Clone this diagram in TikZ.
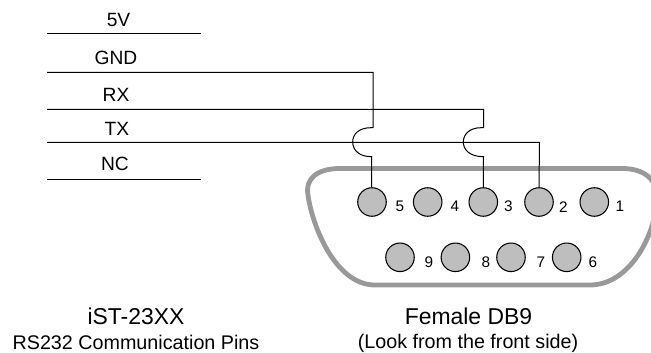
\documentclass[tikz,border=0pt]{standalone}
\usepackage{fontspec}
\setmainfont{Liberation Sans}
\definecolor{shellgray}{HTML}{999999}
\definecolor{pingray}{HTML}{BEBEBE}
\tikzset{
  x=0.75pt,y=-0.75pt,
  wire/.style={draw=black,line width=0.75pt},
  shell/.style={draw=shellgray,line width=3.6pt,line join=round},
  pin/.style={circle,draw=black,fill=pingray,line width=0.8pt,minimum size=21.4pt,inner sep=0pt},
  lab/.style={font=\fontsize{14.4pt}{16pt}\selectfont,inner sep=0pt,anchor=center},
  num/.style={font=\fontsize{11.5pt}{13pt}\selectfont,inner sep=0pt,anchor=center},
  captext/.style={font=\fontsize{17.2pt}{19pt}\selectfont,inner sep=0pt,anchor=center},
  subcap/.style={font=\fontsize{14.8pt}{17pt}\selectfont,inner sep=0pt,anchor=center},
}
\begin{document}
\begin{tikzpicture}
\useasboundingbox (0,0) rectangle (651,353);
% shell
\draw[shell] (340,168.5) -- (622,168.5) .. controls (645,168.5) and (658,180) .. (657,200)
  .. controls (655,235) and (630,285) .. (590,285) -- (375,285)
  .. controls (335,285) and (312,225) .. (308,195)
  .. controls (305,178) and (318,168.5) .. (340,168.5) -- cycle;
% pins
\node[pin] (p5) at (372,202) {};
\node[pin] (p4) at (427.7,202) {};
\node[pin] (p3) at (483.3,202) {};
\node[pin] (p2) at (539,202) {};
\node[pin] (p1) at (594.3,202) {};
\node[pin] (p9) at (400,257.3) {};
\node[pin] (p8) at (455.4,257.3) {};
\node[pin] (p7) at (511,257.3) {};
\node[pin] (p6) at (566.7,257.3) {};
\node[num] (n5) at (400,206.7) {5};
\node[num] (n4) at (455,206.7) {4};
\node[num] (n3) at (508.5,206.7) {3};
\node[num] (n2) at (563.5,206.7) {2};
\node[num] (n1) at (620,206.7) {1};
\node[num] (n9) at (429,262.7) {9};
\node[num] (n8) at (486,262.7) {8};
\node[num] (n7) at (541,262.7) {7};
\node[num] (n6) at (593,262.7) {6};
% free ends
\coordinate (a5v) at (47,33.5);\coordinate (b5v) at (201,33.5);
\coordinate (anc) at (47,179.5);\coordinate (bnc) at (201,179.5);
\coordinate (agnd) at (47,72.5);\coordinate (arx) at (47,109.5);\coordinate (atx) at (47,142.5);
\draw[wire] (a5v) -- (b5v);
\draw[wire] (anc) -- (bnc);
\draw[wire] (agnd) -- (373,72.5) -- (373,127.7) -- (371,127.7)
  .. controls (359,127.7) and (352.7,134) .. (352.7,142)
  .. controls (352.7,150) and (359,156.7) .. (371.5,156.7) -- (p5.north -| 371.5,0);
\draw[wire] (arx) -- (483.5,109.5) -- (483.5,127.7) -- (481,127.7)
  .. controls (470,127.7) and (463.3,134) .. (463.3,142)
  .. controls (463.3,150) and (470,156.7) .. (483.5,156.7) -- (p3.north);
\draw[wire] (atx) -- (539.5,142.5) -- (p2.north);
\node[lab] (t5v) at (118.5,20) {5V};
\node[lab] (tgnd) at (116,58) {GND};
\node[lab] (trx) at (116,94.5) {RX};
\node[lab] (ttx) at (117,128.5) {TX};
\node[lab] (tnc) at (115,163.5) {NC};
\node[captext] (c1) at (136,316) {iST-23XX};
\node[subcap] (c2) at (136,342) {RS232 Communication Pins};
\node[captext] (c3) at (468.5,316) {Female DB9};
\node[subcap] (c4) at (468,343) {(Look from the front side)};
\end{tikzpicture}
\end{document}
